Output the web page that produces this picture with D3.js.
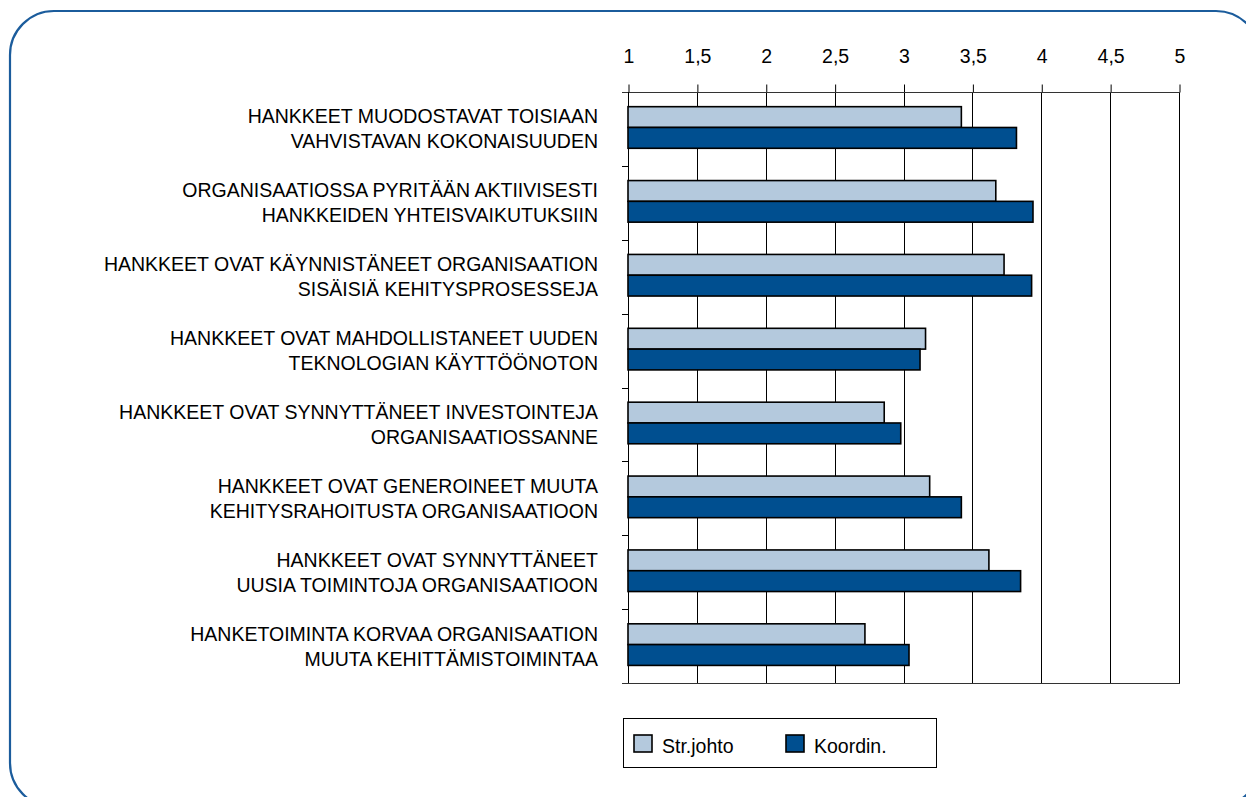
<!DOCTYPE html>
<html>
<head>
<meta charset="utf-8">
<script src="https://cdn.jsdelivr.net/npm/d3@7"></script>
<style>
  html, body { margin: 0; padding: 0; background: #fff; }
  svg { display: block; font-family: "Liberation Sans", Arial, Helvetica, sans-serif; }
</style>
</head>
<body>
<svg id="chart" width="1246" height="797"></svg>
<script>
const categories = [
  ["HANKKEET MUODOSTAVAT TOISIAAN", "VAHVISTAVAN KOKONAISUUDEN"],
  ["ORGANISAATIOSSA PYRITÄÄN AKTIIVISESTI", "HANKKEIDEN YHTEISVAIKUTUKSIIN"],
  ["HANKKEET OVAT KÄYNNISTÄNEET ORGANISAATION", "SISÄISIÄ KEHITYSPROSESSEJA"],
  ["HANKKEET OVAT MAHDOLLISTANEET UUDEN", "TEKNOLOGIAN KÄYTTÖÖNOTON"],
  ["HANKKEET OVAT SYNNYTTÄNEET INVESTOINTEJA", "ORGANISAATIOSSANNE"],
  ["HANKKEET OVAT GENEROINEET MUUTA", "KEHITYSRAHOITUSTA ORGANISAATIOON"],
  ["HANKKEET OVAT SYNNYTTÄNEET", "UUSIA TOIMINTOJA ORGANISAATIOON"],
  ["HANKETOIMINTA KORVAA ORGANISAATION", "MUUTA KEHITTÄMISTOIMINTAA"]
];
const seriesNames = ["Str.johto", "Koordin."];
const strjohto = [3.42, 3.67, 3.73, 3.16, 2.86, 3.19, 3.62, 2.72];
const koordin  = [3.82, 3.94, 3.93, 3.12, 2.98, 3.42, 3.85, 3.04];
const xTicks = [1, 1.5, 2, 2.5, 3, 3.5, 4, 4.5, 5];
const colors = ["#b4c9dd", "#004f90"];

const svg = d3.select("#chart");

// outer rounded frame
svg.append("rect")
  .attr("x", 10).attr("y", 11)
  .attr("width", 1250).attr("height", 796)
  .attr("rx", 44).attr("ry", 44)
  .attr("fill", "none")
  .attr("stroke", "#1b5c9c")
  .attr("stroke-width", 2.2);

const pLeft = 628, pRight = 1179, pTop = 92, pBottom = 683;
const catKeys = categories.map((c, i) => i);

const x = d3.scaleLinear().domain([1, 5]).range([pLeft, pRight]);
const y0 = d3.scaleBand().domain(catKeys).range([pTop, pBottom]);
const y1 = d3.scaleBand().domain(seriesNames).range([0, y0.bandwidth()])
  .paddingInner(0).paddingOuter(0.776).align(0.455);

const fmt = d => String(d).replace(".", ",");

// gridlines
svg.append("g").selectAll("line")
  .data(xTicks)
  .join("line")
  .attr("x1", d => Math.round(x(d)) + 0.5).attr("x2", d => Math.round(x(d)) + 0.5)
  .attr("y1", pTop).attr("y2", pBottom)
  .attr("stroke", "#000").attr("stroke-width", 1);

// bottom line
svg.append("line")
  .attr("x1", pLeft - 6).attr("x2", pRight + 1)
  .attr("y1", pBottom + 0.5).attr("y2", pBottom + 0.5)
  .attr("stroke", "#333").attr("stroke-width", 1.2);

// top axis
const xAxis = d3.axisTop(x).tickValues(xTicks).tickSize(8).tickPadding(22).tickFormat(fmt);
const gx = svg.append("g").attr("transform", `translate(0.5,${pTop + 0.5})`).call(xAxis);
gx.select(".domain").remove();
gx.selectAll(".tick line").attr("stroke", "#000");
gx.selectAll(".tick text")
  .attr("font-size", 19.5).attr("fill", "#000")
  .attr("font-family", "'Liberation Sans', Arial, sans-serif")
  .attr("dy", "0");
gx.append("line")
  .attr("x1", pLeft - 6 - 0.5).attr("x2", pRight + 0.5)
  .attr("y1", 0).attr("y2", 0)
  .attr("stroke", "#333").attr("stroke-width", 1.2);

// left axis (category boundary ticks)
const boundaries = catKeys.slice(1).map(k => y0(k));
svg.append("g").selectAll("line")
  .data(boundaries)
  .join("line")
  .attr("x1", pLeft - 6).attr("x2", pLeft)
  .attr("y1", d => Math.round(d) + 0.5).attr("y2", d => Math.round(d) + 0.5)
  .attr("stroke", "#000");
svg.append("line")
  .attr("x1", pLeft + 0.5).attr("x2", pLeft + 0.5)
  .attr("y1", pTop).attr("y2", pBottom)
  .attr("stroke", "#000");

// bars
const rows = catKeys.map(i => ({ i, vals: [strjohto[i], koordin[i]] }));
const g = svg.append("g").selectAll("g")
  .data(rows)
  .join("g")
  .attr("transform", d => `translate(0,${y0(d.i)})`);
g.selectAll("rect")
  .data(d => d.vals.map((v, j) => ({ v, name: seriesNames[j], j })))
  .join("rect")
  .attr("x", x(1))
  .attr("y", d => y1(d.name))
  .attr("width", d => x(d.v) - x(1))
  .attr("height", y1.bandwidth())
  .attr("fill", d => colors[d.j])
  .attr("stroke", "#000")
  .attr("stroke-width", 1.6);

// category labels
const lab = svg.append("g").selectAll("text")
  .data(rows)
  .join("text")
  .attr("text-anchor", "end")
  .attr("font-size", 19.5)
  .attr("fill", "#000")
  .attr("transform", d => `translate(598,${y0(d.i) + y0.bandwidth() / 2})`);
lab.selectAll("tspan")
  .data(d => categories[d.i])
  .join("tspan")
  .attr("x", 0)
  .attr("y", (d, k) => k === 0 ? -5.5 : 19.5)
  .text(d => d);

// legend
const lg = svg.append("g");
lg.append("rect")
  .attr("x", 623.5).attr("y", 718.5).attr("width", 313).attr("height", 49)
  .attr("fill", "#fff").attr("stroke", "#000").attr("stroke-width", 1);
const legX = [634, 786];
seriesNames.forEach((name, j) => {
  lg.append("rect")
    .attr("x", legX[j]).attr("y", 735).attr("width", 18).attr("height", 17)
    .attr("fill", colors[j]).attr("stroke", "#000").attr("stroke-width", 1.6);
  lg.append("text")
    .attr("x", legX[j] + 28).attr("y", 753)
    .attr("font-size", 19.5).attr("fill", "#000")
    .text(name);
});
</script>
</body>
</html>
